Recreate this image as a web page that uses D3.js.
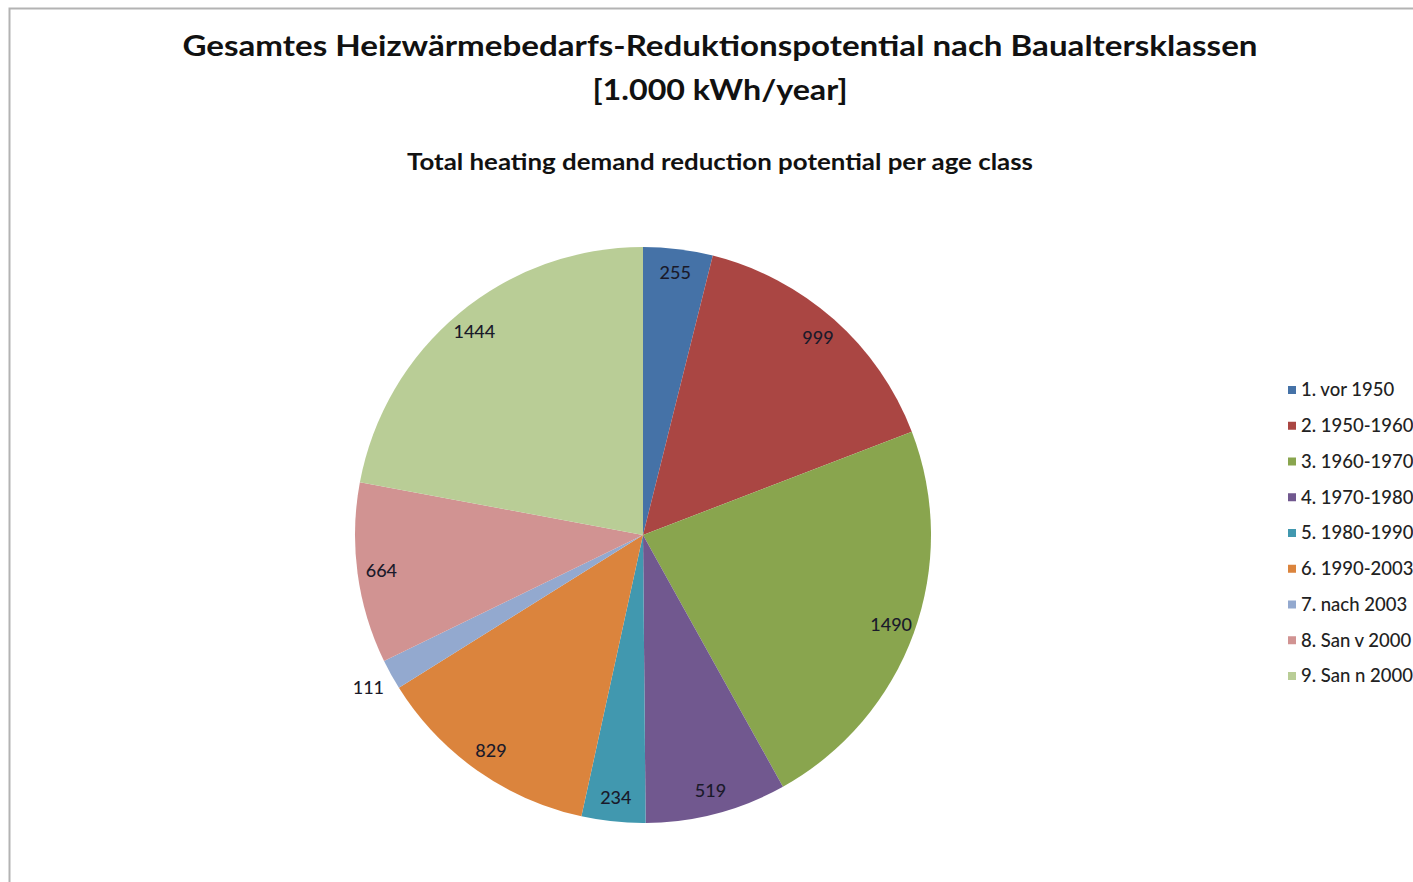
<!DOCTYPE html>
<html lang="de">
<head>
<meta charset="UTF-8">
<title>Heizwärmebedarf Reduktionspotential</title>
<script src="https://d3js.org/d3.v7.min.js"></script>
<style>
  body { margin: 0; background: #fff; }
  svg { display: block; font-family: Lato, "Open Sans", sans-serif; }
</style>
</head>
<body>
<script>
// data
const categories = ['1. vor 1950', '2. 1950-1960', '3. 1960-1970', '4. 1970-1980', '5. 1980-1990',
                    '6. 1990-2003', '7. nach 2003', '8. San v 2000', '9. San n 2000'];
const values = [255, 999, 1490, 519, 234, 829, 111, 664, 1444];
const colors = ['#4572A7', '#AA4643', '#89A54E', '#71588F', '#4198AF',
                '#DB843D', '#93A9CF', '#D19392', '#B9CD96'];
const titleLines = ['Gesamtes Heizwärmebedarfs-Reduktionspotential nach Baualtersklassen', '[1.000 kWh/year]'];
const subtitle = 'Total heating demand reduction potential per age class';

const w = 1413, h = 882;
const cx = 643, cy = 535, r = 288;

const svg = d3.select('body').append('svg')
              .attr('width', w)
              .attr('height', h);

// frame (runs off the right/bottom edge like the screenshot)
svg.append('rect')
   .attr('x', 9.5).attr('y', 8.5)
   .attr('width', w + 20).attr('height', h + 20)
   .attr('fill', 'none')
   .attr('stroke', '#b3b3b3')
   .attr('stroke-width', 2);

// titles
svg.append('text')
   .attr('x', 720).attr('y', 56)
   .attr('text-anchor', 'middle')
   .attr('font-size', 29).attr('font-weight', 'bold').attr('fill', '#111')
   .attr('textLength', 1075).attr('lengthAdjust', 'spacingAndGlyphs')
   .text(titleLines[0]);
svg.append('text')
   .attr('x', 720).attr('y', 100)
   .attr('text-anchor', 'middle')
   .attr('font-size', 29).attr('font-weight', 'bold').attr('fill', '#111')
   .attr('textLength', 255).attr('lengthAdjust', 'spacingAndGlyphs')
   .text(titleLines[1]);
svg.append('text')
   .attr('x', 720).attr('y', 170)
   .attr('text-anchor', 'middle')
   .attr('font-size', 23).attr('font-weight', 'bold').attr('fill', '#111')
   .attr('textLength', 626).attr('lengthAdjust', 'spacingAndGlyphs')
   .text(subtitle);

// pie
const pie = d3.pie().sort(null).value(d => d)(values);
const arc = d3.arc().innerRadius(0).outerRadius(r);
const labelArc = d3.arc().innerRadius(264).outerRadius(264);
const outerLabelArc = d3.arc().innerRadius(314).outerRadius(314);

const g = svg.append('g').attr('transform', `translate(${cx},${cy})`);

g.selectAll('path')
 .data(pie)
 .enter()
 .append('path')
 .attr('d', arc)
 .attr('fill', (d, i) => colors[i]);

// small slices get their label outside
g.selectAll('text.lbl')
 .data(pie)
 .enter()
 .append('text')
 .attr('class', 'lbl')
 .attr('transform', d => {
     const small = (d.endAngle - d.startAngle) < 0.15;
     const c = small ? outerLabelArc.centroid(d) : labelArc.centroid(d);
     return `translate(${c[0]},${c[1]})`;
 })
 .attr('text-anchor', 'middle')
 .attr('dy', '0.35em')
 .attr('font-size', 18)
 .attr('font-weight', 500)
 .attr('fill', '#1a1a2a')
 .text(d => d.value);

// legend
const legend = svg.append('g')
                  .attr('transform', 'translate(1288, 390)');
const item = legend.selectAll('g')
                   .data(categories)
                   .enter()
                   .append('g')
                   .attr('transform', (d, i) => `translate(0, ${i * 35.75})`);
item.append('rect')
    .attr('x', 0).attr('y', -4)
    .attr('width', 8).attr('height', 8)
    .attr('fill', (d, i) => colors[i]);
item.append('text')
    .attr('x', 13).attr('dy', '0.35em')
    .attr('font-size', 18.5)
    .attr('font-weight', 500)
    .attr('fill', '#222')
    .text(d => d);
</script>
</body>
</html>
